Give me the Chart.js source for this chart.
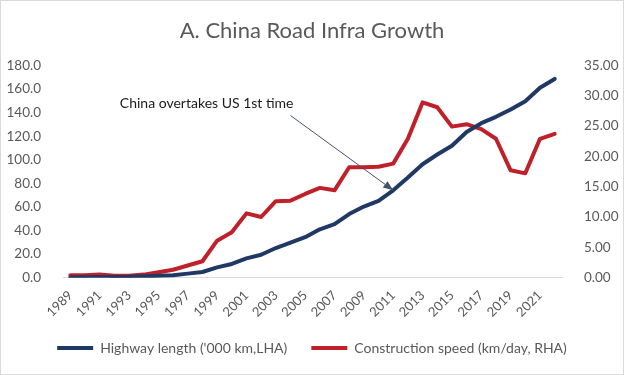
<!DOCTYPE html>
<html>
<head>
<meta charset="utf-8">
<script src="https://cdn.jsdelivr.net/npm/chart.js@4.4.1/dist/chart.umd.min.js"></script>
<style>
  html, body { margin: 0; padding: 0; background: #fff; }
  #wrap { width: 624px; height: 375px; box-sizing: border-box; border: 1px solid #d9d9d9; }
</style>
</head>
<body>
<div id="wrap"><canvas id="roadChart" width="622" height="373"></canvas></div>
<script>
const years = ['1989','1990','1991','1992','1993','1994','1995','1996','1997','1998',
  '1999','2000','2001','2002','2003','2004','2005','2006','2007','2008',
  '2009','2010','2011','2012','2013','2014','2015','2016','2017','2018',
  '2019','2020','2021','2022'];

// '000 km, left axis
const highwayLength = [0.1, 0.3, 0.5, 0.6, 0.7, 1.1, 1.6, 2.1, 3.4, 4.8,
  8.7, 11.6, 16.3, 19.4, 25.1, 29.7, 34.3, 41.0, 45.3, 53.9,
  60.3, 65.1, 74.1, 84.9, 96.2, 104.4, 111.9, 123.5, 131.0, 136.4,
  142.6, 149.6, 161.0, 168.5];

// km/day, right axis
const constructionSpeed = [0.4, 0.4, 0.5, 0.3, 0.3, 0.5, 0.9, 1.3, 2.0, 2.7,
  6.1, 7.5, 10.6, 10.0, 12.6, 12.7, 13.8, 14.8, 14.4, 18.2,
  18.2, 18.3, 18.8, 22.9, 28.9, 28.1, 24.9, 25.3, 24.5, 22.9,
  17.7, 17.2, 22.9, 23.7];

const leftTicks = { min: 0, max: 180, step: 20 };
const rightTicks = { min: 0, max: 35, step: 5 };

const noteText = 'China overtakes US 1st time';
const noteFromYear = '2004';
const noteFromLevel = 137.5;
const noteTipYear = '2011';

const grey = '#595959';
const font = 'Lato, "Open Sans", sans-serif';

const arrowNote = {
  id: 'arrowNote',
  afterDatasetsDraw(chart) {
    const { ctx, scales } = chart;
    const x = scales.x, yL = scales.yL;
    const ti = years.indexOf(noteTipYear);
    const tx = x.getPixelForValue(ti), ty = yL.getPixelForValue(highwayLength[ti]);
    const sx = x.getPixelForValue(years.indexOf(noteFromYear));
    const sy = yL.getPixelForValue(noteFromLevel);
    const ang = Math.atan2(ty - sy, tx - sx);
    const len = 10, half = 4;
    ctx.save();
    ctx.strokeStyle = '#44546A';
    ctx.fillStyle = '#44546A';
    ctx.lineWidth = 1;
    ctx.beginPath();
    ctx.moveTo(sx, sy);
    ctx.lineTo(tx - Math.cos(ang) * len, ty - Math.sin(ang) * len);
    ctx.stroke();
    ctx.beginPath();
    ctx.moveTo(tx, ty);
    ctx.lineTo(tx - Math.cos(ang) * len - Math.sin(ang) * half, ty - Math.sin(ang) * len + Math.cos(ang) * half);
    ctx.lineTo(tx - Math.cos(ang) * len + Math.sin(ang) * half, ty - Math.sin(ang) * len - Math.cos(ang) * half);
    ctx.closePath();
    ctx.fill();
    ctx.fillStyle = '#1a1a1a';
    ctx.font = '14px ' + font;
    ctx.textAlign = 'right';
    ctx.textBaseline = 'middle';
    ctx.fillText(noteText, sx + 3, sy - 12);
    ctx.restore();
  }
};

new Chart(document.getElementById('roadChart'), {
  type: 'line',
  data: {
    labels: years,
    datasets: [
      {
        label: "Highway length ('000 km,LHA)",
        data: highwayLength,
        yAxisID: 'yL',
        borderColor: '#1F3864',
        backgroundColor: '#1F3864',
        borderWidth: 4,
        pointRadius: 0,
        tension: 0,
        borderJoinStyle: 'round',
        borderCapStyle: 'round'
      },
      {
        label: 'Construction speed (km/day, RHA)',
        data: constructionSpeed,
        yAxisID: 'yR',
        borderColor: '#C0202A',
        backgroundColor: '#C0202A',
        borderWidth: 4,
        pointRadius: 0,
        tension: 0,
        borderJoinStyle: 'round',
        borderCapStyle: 'round'
      }
    ]
  },
  options: {
    responsive: false,
    animation: false,
    layout: { padding: { left: 0, right: 0, top: 4, bottom: 9 } },
    plugins: {
      title: {
        display: true,
        text: 'A. China Road Infra Growth',
        color: grey,
        font: { family: font, size: 22, weight: 'normal' },
        padding: { top: 13, bottom: 21 }
      },
      legend: {
        position: 'bottom',
        labels: {
          color: grey,
          font: { family: font, size: 14 },
          usePointStyle: true,
          pointStyle: 'line',
          pointStyleWidth: 36,
          padding: 24
        }
      },
      tooltip: { enabled: false }
    },
    scales: {
      x: {
        offset: true,
        grid: { display: false },
        border: { display: true, color: '#d9d9d9', width: 1 },
        ticks: {
          autoSkip: false,
          minRotation: 45,
          maxRotation: 45,
          color: grey,
          font: { family: font, size: 13 },
          padding: 2,
          callback: (v, i) => (i % 2 === 0 ? years[i] : '')
        },
        afterFit: s => { s.height -= 5; }
      },
      yL: {
        position: 'left',
        min: leftTicks.min,
        max: leftTicks.max,
        grid: { display: false },
        border: { display: false },
        ticks: {
          stepSize: leftTicks.step,
          color: grey,
          font: { family: font, size: 13.5 },
          padding: 14,
          callback: v => v.toFixed(1)
        },
        afterFit: s => { s.width = 62; }
      },
      yR: {
        position: 'right',
        min: rightTicks.min,
        max: rightTicks.max,
        grid: { display: false },
        border: { display: false },
        ticks: {
          stepSize: rightTicks.step,
          color: grey,
          font: { family: font, size: 13.5 },
          padding: 14,
          callback: v => v.toFixed(2)
        },
        afterFit: s => { s.width = 61; }
      }
    }
  },
  plugins: [arrowNote]
});
</script>
</body>
</html>
